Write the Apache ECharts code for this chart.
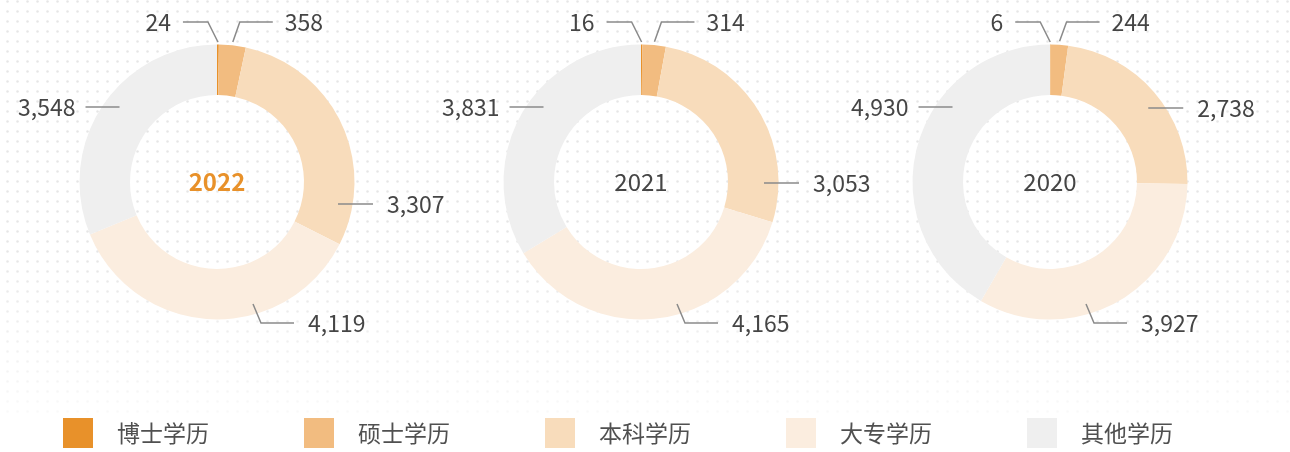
<!DOCTYPE html>
<html>
<head>
<meta charset="utf-8">
<script src="https://cdn.jsdelivr.net/npm/echarts@6/dist/echarts.min.js"></script>
<style>
html, body { margin: 0; padding: 0; background: #fff; }
#chart { width: 1290px; height: 452px; }
</style>
</head>
<body>
<div id="chart"></div>
<script>
// 学历结构 2022 / 2021 / 2020
const years = ['2022', '2021', '2020'];
const categories = ['博士学历', '硕士学历', '本科学历', '大专学历', '其他学历'];
const values2022 = [24, 358, 3307, 4119, 3548];
const values2021 = [16, 314, 3053, 4165, 3831];
const values2020 = [6, 244, 2738, 3927, 4930];

const colors = ['#E8912A', '#F2BC80', '#F8DCBB', '#FBEDDF', '#EFEFEF'];
const centers = [[217, 182], [641, 182], [1050, 182]];
const ringOuter = 137.5;
const ringInner = 87;
// 本科 标签横线相对圆心的纵向偏移
const bkLabelDy = [22, 1, -74];

const allValues = [values2022, values2021, values2020];

// 背景点阵
function dotPattern() {
    const c = document.createElement('canvas');
    c.width = 10;
    c.height = 10;
    const g = c.getContext('2d');
    g.fillStyle = '#e6e6e6';
    g.beginPath();
    g.arc(7.5, 1.5, 1.25, 0, Math.PI * 2);
    g.fill();
    return c;
}

function midPoint(si, di, r) {
    const vals = allValues[si];
    const total = vals.reduce((a, b) => a + b, 0);
    let before = 0;
    for (let k = 0; k < di; k++) before += vals[k];
    const a = (before + vals[di] / 2) / total * Math.PI * 2;
    const [cx, cy] = centers[si];
    return [cx + r * Math.sin(a), cy - r * Math.cos(a)];
}

function makeLabelLayout(si) {
    return function (params) {
        const [cx, cy] = centers[si];
        const i = params.dataIndex;
        let pts, tx, align;
        if (i === 0) {
            const s = midPoint(si, 0, 140);
            pts = [s, [s[0] - 10, cy - 160], [s[0] - 35, cy - 160]];
            tx = pts[2][0] - 12; align = 'right';
        } else if (i === 1) {
            const s = midPoint(si, 1, 141);
            pts = [s, [s[0] + 7, cy - 160], [s[0] + 40, cy - 160]];
            tx = pts[2][0] + 12; align = 'left';
        } else if (i === 2) {
            const dy = bkLabelDy[si];
            const sx = cx + Math.sqrt(123 * 123 - dy * dy);
            pts = [[sx, cy + dy], [sx + 17, cy + dy], [sx + 35, cy + dy]];
            tx = pts[2][0] + 14; align = 'left';
        } else if (i === 3) {
            pts = [[cx + 36, cy + 122], [cx + 44, cy + 141], [cx + 77, cy + 141]];
            tx = pts[2][0] + 14; align = 'left';
        } else {
            const dy = -75;
            const sx = cx - Math.sqrt(123 * 123 - dy * dy);
            pts = [[sx, cy + dy], [sx - 17, cy + dy], [sx - 34, cy + dy]];
            tx = pts[2][0] - 10; align = 'right';
        }
        return {
            x: tx,
            y: pts[2][1],
            align: align,
            verticalAlign: 'middle',
            labelLinePoints: pts
        };
    };
}

const chart = echarts.init(document.getElementById('chart'));

// 彩色圆环
const ringSeries = years.map((y, si) => ({
    type: 'pie',
    name: y,
    center: centers[si],
    radius: [ringInner, ringOuter],
    startAngle: 90,
    clockwise: true,
    silent: true,
    z: 2,
    label: { show: false },
    labelLine: { show: false },
    data: categories.map((c, k) => ({
        name: c,
        value: allValues[si][k],
        itemStyle: { color: colors[k] }
    }))
}));

// 透明覆盖层，只负责标签和引导线（画在圆环之上）
const labelSeries = years.map((y, si) => ({
    type: 'pie',
    name: y + '-label',
    center: centers[si],
    radius: [ringInner, ringOuter],
    startAngle: 90,
    clockwise: true,
    avoidLabelOverlap: false,
    silent: true,
    z: 5,
    itemStyle: { color: 'rgba(0,0,0,0)' },
    label: {
        show: true,
        position: 'outside',
        color: '#454545',
        fontSize: 23,
        fontFamily: 'Noto Sans CJK SC',
        formatter: p => p.value.toLocaleString('en-US')
    },
    labelLine: {
        show: true,
        length: 10,
        length2: 30,
        lineStyle: { color: '#8a8a8a', width: 1.5 }
    },
    labelLayout: makeLabelLayout(si),
    data: categories.map((c, k) => ({
        name: c,
        value: allValues[si][k]
    }))
}));

const option = {
    backgroundColor: '#fff',
    animation: false,
    color: colors,
    textStyle: { fontFamily: 'Noto Sans CJK SC' },
    graphic: [
        {
            type: 'rect',
            z: -10,
            shape: { x: 0, y: 0, width: 1290, height: 415 },
            style: { fill: { image: dotPattern(), repeat: 'repeat' } },
            silent: true
        },
        {
            type: 'rect',
            z: -9,
            shape: { x: 0, y: 250, width: 1290, height: 170 },
            style: {
                fill: new echarts.graphic.LinearGradient(0, 0, 0, 1, [
                    { offset: 0, color: 'rgba(255,255,255,0)' },
                    { offset: 1, color: 'rgba(255,255,255,0.8)' }
                ])
            },
            silent: true
        }
    ],
    title: years.map((y, si) => ({
        text: y,
        left: centers[si][0],
        top: centers[si][1],
        textAlign: 'center',
        textVerticalAlign: 'middle',
        padding: 0,
        textStyle: {
            fontFamily: 'Noto Sans CJK SC',
            fontSize: 24,
            fontWeight: si === 0 ? 'bold' : 'normal',
            color: si === 0 ? '#E8912A' : '#454545'
        }
    })),
    legend: {
        data: categories,
        left: 63,
        top: 418,
        padding: 0,
        icon: 'rect',
        itemWidth: 30,
        itemHeight: 30,
        itemGap: 95,
        selectedMode: false,
        textStyle: {
            fontSize: 23,
            color: '#505050',
            fontFamily: 'Noto Sans CJK SC',
            padding: [0, 0, 0, 19]
        }
    },
    series: ringSeries.concat(labelSeries)
};

chart.setOption(option);
</script>
</body>
</html>
